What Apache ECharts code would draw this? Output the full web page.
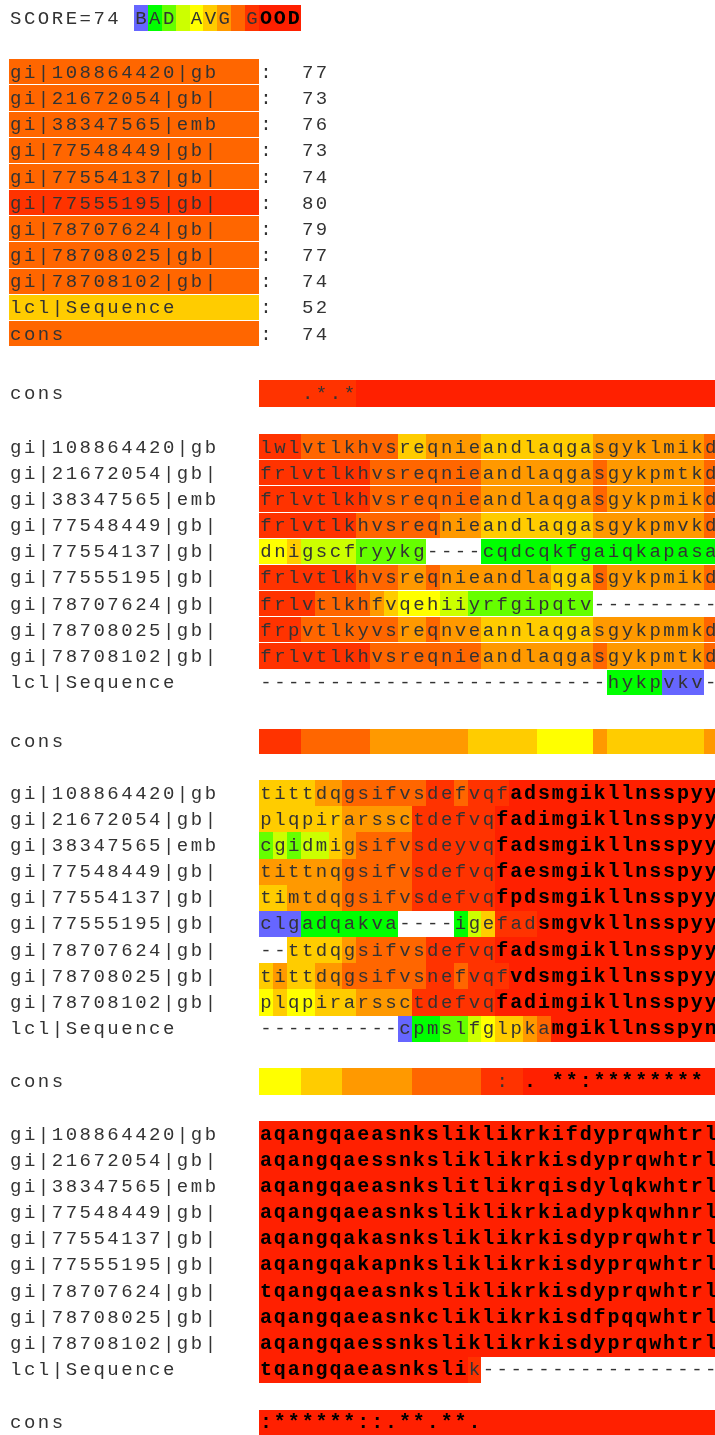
<!DOCTYPE html>
<html><head><meta charset="utf-8">
<script src="https://cdn.jsdelivr.net/npm/echarts@6/dist/echarts.min.js"></script>
<style>html,body{margin:0;padding:0;background:#fff}#c{width:715px;height:1435px}</style>
</head><body><div id="c"></div>
<script>
// ---------------- DATA ----------------
const overallScore = 74;
const legendText = "BAD AVG GOOD";
const legendScores = [0,1,2,3,4,5,6,7,8,9,9,9];

const seqNames = ["gi|108864420|gb","gi|21672054|gb|","gi|38347565|emb","gi|77548449|gb|","gi|77554137|gb|",
  "gi|77555195|gb|","gi|78707624|gb|","gi|78708025|gb|","gi|78708102|gb|","lcl|Sequence"];
const tableNames = seqNames.concat(["cons"]);
const tableScores = [77,73,76,73,74,80,79,77,74,52,74];

const block1Seqs = [
  "lwlvtlkhvsreqnieandlaqgasgyklmikd",
  "frlvtlkhvsreqnieandlaqgasgykpmtkd",
  "frlvtlkhvsreqnieandlaqgasgykpmikd",
  "frlvtlkhvsreqnieandlaqgasgykpmvkd",
  "dnigscfryykg----cqdcqkfgaiqkapasa",
  "frlvtlkhvsreqnieandlaqgasgykpmikd",
  "frlvtlkhfvqehiiyrfgipqtv---------",
  "frpvtlkyvsreqnveannlaqgasgykpmmkd",
  "frlvtlkhvsreqnieandlaqgasgykpmtkd",
  "-------------------------hykpvkv-"];
const block1Scores = [
  "888777777755666655555555666666667",
  "888888887777777766666666766666667",
  "888888887777777766666666766666667",
  "888888877777766655555555666666667",
  "445333322222----11111111111111111",
  "888888877766766666666555766666667",
  "888877776544433222222222---------",
  "888777777766766655555555666666667",
  "888888887777777766666666766666667",
  "-------------------------1111000-"];

const block2Seqs = [
  "tittdqgsifvsdefvqfadsmgikllnsspyy",
  "plqpirarssctdefvqfadimgikllnsspyy",
  "cgidmigsifvsdeyvqfadsmgikllnsspyy",
  "tittnqgsifvsdefvqfaesmgikllnsspyy",
  "timtdqgsifvsdefvqfpdsmgikllnsspyy",
  "clgadqakva----igefadsmgvkllnsspyy",
  "--ttdqgsifvsdefvqfadsmgikllnsspyy",
  "tittdqgsifvsnefvqfvdsmgikllnsspyy",
  "plqpirarssctdefvqfadimgikllnsspyy",
  "----------cpmslfglpkamgikllnsspyn"];
const block2Scores = [
  "555566777777887888999999999999999",
  "555555666668888889999999999999999",
  "232335677778888889999999999999999",
  "666666777778888889999999999999999",
  "556666777778888889999999999999999",
  "0001111111----1358889999999999999",
  "--5555677777888889999999999999999",
  "565566777777887888999999999999999",
  "454455566668888889999999999999999",
  "----------01122345567999999999999"];

const block3Seqs = [
  "aqangqaeasnksliklikrkifdyprqwhtrl",
  "aqangqaessnksliklikrkisdyprqwhtrl",
  "aqangqaeasnkslitlikrqisdylqkwhtrl",
  "aqangqaeasnksliklikrkiadypkqwhnrl",
  "aqangqakasnksliklikrkisdyprqwhtrl",
  "aqangqakapnksliklikrkisdyprqwhtrl",
  "tqangqaeasnksliklikrkisdyprqwhtrl",
  "aqangqaeasnkcliklikrkisdfpqqwhtrl",
  "aqangqaessnksliklikrkisdyprqwhtrl",
  "tqangqaeasnkslik-----------------"];
const block3Scores = [
  "999999999999999999999999999999999",
  "999999999999999999999999999999999",
  "999999999999999999999999999999999",
  "999999999999999999999999999999999",
  "999999999999999999999999999999999",
  "999999999999999999999999999999999",
  "999999999999999999999999999999999",
  "999999999999999999999999999999999",
  "999999999999999999999999999999999",
  "9999999999999998-----------------"];

const consTexts = [
  "   .*.*",
  "",
  "                 : . **:********",
  ":******::.**.**."];
const consScores = [
  "888888899999999999999999999999999",
  "888777776666666555554444655555556",
  "444555666667777788899999999999999",
  "999999999999999999999999999999999"];

// ---------------- STYLE / LAYOUT ----------------
const palette = ['#6666FF','#00FF00','#66FF00','#CCFF00','#FFFF00','#FFCC00','#FF9900','#FF6600','#FF3300','#FF2000'];
const CW = 13.9, X0 = 8.8, W = 715 - X0, XMAX = W / CW, NAME_COLS = 18, PITCH = 26.17;
const FAM = '"Liberation Mono","DejaVu Sans Mono",monospace';
const FS = 19;
const TXT = '#333';

const panels = [];
function scoreIdx(ch){ return (ch === '-' || ch === undefined) ? null : +ch; }

// header
(function(){
  const items = [];
  const s = 'SCORE=' + overallScore;
  for (let i = 0; i < s.length; i++) items.push({col:i, row:0, ch:s[i], s:null});
  for (let i = 0; i < legendText.length; i++)
    items.push({col:s.length + 1 + i, row:0, ch:legendText[i], s:legendScores[i]});
  panels.push({top:5, height:26, rows:['score'], items, gap:0});
})();
// score table
(function(){
  const items = [];
  tableNames.forEach((n, r) => {
    items.push({col:0, row:r, w:NAME_COLS, ch:' ', s:Math.floor(tableScores[r]/10), plain:true});
    for (let i = 0; i < n.length; i++) items.push({col:i, row:r, ch:n[i], s:null});
    items.push({col:NAME_COLS, row:r, ch:':', s:null});
    const t = String(tableScores[r]);
    for (let i = 0; i < t.length; i++) items.push({col:NAME_COLS + 3 + i, row:r, ch:t[i], s:null});
  });
  panels.push({top:59.3, height:PITCH*tableNames.length, rows:tableNames, items, gap:1});
})();
function consPanel(k, top, h){
  const items = [];
  'cons'.split('').forEach((c,i)=>items.push({col:i, row:0, ch:c, s:null}));
  const sc = consScores[k], tx = consTexts[k];
  for (let c = 0; c < sc.length; c++)
    items.push({col:NAME_COLS + c, row:0, ch:tx[c] || ' ', s:scoreIdx(sc[c])});
  panels.push({top, height:h, rows:['cons'], items, gap:0});
}
function blockPanel(seqs, scores, top, gap){
  const items = [];
  seqNames.forEach((n, r) => {
    for (let i = 0; i < n.length; i++) items.push({col:i, row:r, ch:n[i], s:null});
    const sq = seqs[r], sc = scores[r];
    for (let c = 0; c < sq.length; c++)
      items.push({col:NAME_COLS + c, row:r, ch:sq[c], s:scoreIdx(sc[c])});
  });
  panels.push({top, height:PITCH*seqNames.length, rows:seqNames, items, gap});
}
consPanel(0, 380, 26.5);
blockPanel(block1Seqs, block1Scores, 434, 1);
consPanel(1, 729, 25);
blockPanel(block2Seqs, block2Scores, 780, 0);
consPanel(2, 1068, 26.5);
blockPanel(block3Seqs, block3Scores, 1121, 0);
consPanel(3, 1410, 25);

// ---------------- CHART ----------------
const grid = [], xAxis = [], yAxis = [], series = [];
panels.forEach((p, gi) => {
  grid.push({left:X0, top:p.top, width:W, height:p.height});
  xAxis.push({gridIndex:gi, type:'value', min:0, max:XMAX, show:false});
  yAxis.push({gridIndex:gi, type:'category', data:p.rows, inverse:true, show:false});
  series.push({
    type:'custom', xAxisIndex:gi, yAxisIndex:gi, silent:true, animation:false,
    data:p.items.map(it => [it.col, it.row]),
    renderItem:(params, api) => {
      const it = p.items[params.dataIndex];
      const a = api.coord([it.col, it.row]);
      const b = api.coord([it.col + (it.w || 1), it.row]);
      const band = api.size([1, 1])[1];
      const children = [];
      if (it.s !== null) {
        const x1 = Math.round(a[0]), x2 = Math.round(b[0]);
        const y1 = Math.round(a[1] - band/2), y2 = Math.round(a[1] + band/2 - p.gap);
        children.push({type:'rect', shape:{x:x1, y:y1, width:x2-x1, height:y2-y1},
          style:{fill:palette[it.s]}});
      }
      if (it.ch && it.ch !== ' ') {
        const bold = it.s === 9 && !it.plain;
        children.push({type:'text', style:{text:it.ch, x:(a[0]+b[0])/2, y:a[1]+0.5,
          align:'center', verticalAlign:'middle',
          font:(bold ? 'bold ' : '') + (bold ? FS + 1 : FS) + 'px ' + FAM, fill: bold ? '#000' : TXT}});
      }
      return {type:'group', children};
    }
  });
});
const chart = echarts.init(document.getElementById('c'), null, {renderer:'canvas', width:715, height:1435});
chart.setOption({animation:false, grid, xAxis, yAxis, series});
</script></body></html>
